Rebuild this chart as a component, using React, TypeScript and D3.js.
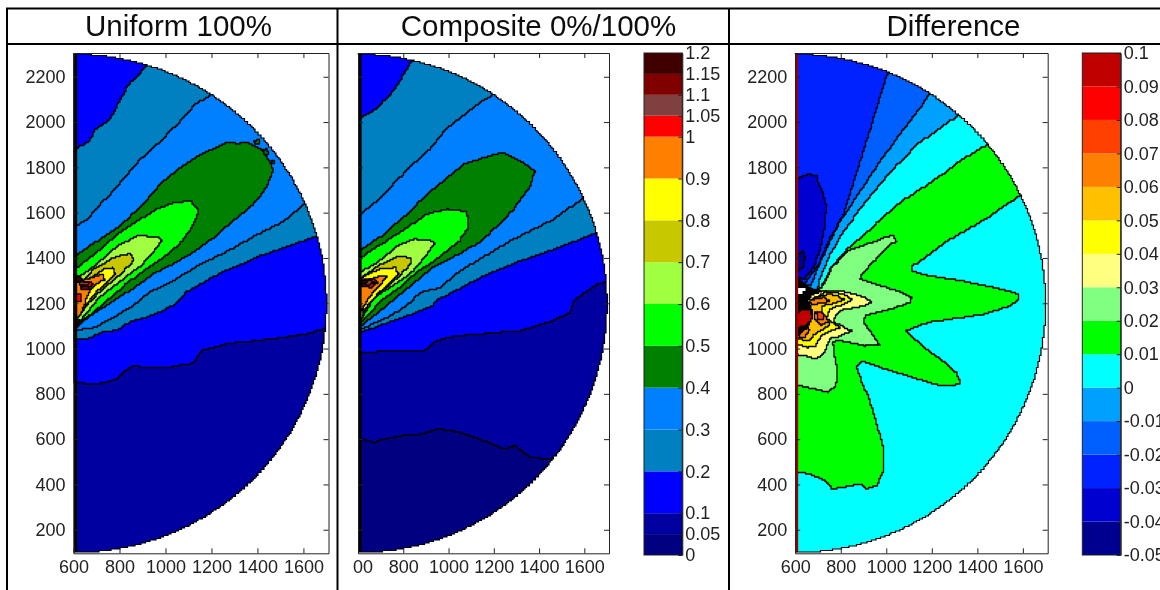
import { useEffect, useRef } from "react"
import * as d3 from "d3"

type Pt = [number, number]
type Layer = [number, Pt[][]]

// colour bar levels + colours
const sumLevels = [0, 0.05, 0.1, 0.2, 0.3, 0.4, 0.5, 0.6, 0.7, 0.8, 0.9, 1, 1.05, 1.1, 1.15, 1.2]
const sumColors = ["#000080", "#0000a0", "#0000ff", "#0080c0", "#0080ff", "#008000", "#00ff00", "#a0ff40", "#c8c800", "#ffff00", "#ff8000", "#ff0000", "#804040", "#800000", "#400000"]
const diffLevels = [-0.05, -0.04, -0.03, -0.02, -0.01, 0, 0.01, 0.02, 0.03, 0.04, 0.05, 0.06, 0.07, 0.08, 0.09, 0.1]
const diffColors = ["#000090", "#0000d0", "#0020ff", "#0060ff", "#00a0ff", "#00ffff", "#00ff00", "#80ff80", "#ffff80", "#ffff00", "#ffc000", "#ff8000", "#ff4000", "#ff0000", "#c00000"]

const xTicks = [600, 800, 1000, 1200, 1400, 1600]
const yTicks = [200, 400, 600, 800, 1000, 1200, 1400, 1600, 1800, 2000, 2200]

// Uniform 100% contours (data units)
const u01: Pt[] = [[600, 850], [640, 847], [690, 843], [740, 852], [785, 866], [820, 902], [857, 923], [915, 917], [973, 914], [1031, 920], [1075, 931], [1118, 934], [1155, 992], [1205, 1004], [1270, 1023], [1350, 1030], [1437, 1040], [1524, 1052], [1611, 1065], [1695, 1090], [1760, 1095], [1760, 2400], [600, 2400]]
const u02: Pt[] = [[600, 1040], [671, 1047], [715, 1071], [788, 1082], [846, 1120], [919, 1140], [991, 1170], [1042, 1199], [1085, 1247], [1136, 1277], [1238, 1336], [1412, 1410], [1660, 1498], [1760, 1535], [1760, 2400], [960, 2400], [919, 2245], [839, 2160], [803, 2094], [759, 2006], [693, 1962], [671, 1917], [600, 1870]]
const u03: Pt[] = [[600, 1082], [680, 1090], [759, 1130], [860, 1193], [926, 1248], [1006, 1285], [1151, 1373], [1296, 1446], [1398, 1505], [1514, 1564], [1608, 1641], [1680, 1700], [1760, 1700], [1760, 2400], [1270, 2400], [1202, 2119], [1136, 2079], [1020, 1954], [889, 1829], [788, 1711], [715, 1630], [664, 1572], [600, 1530]]
const u04: Pt[] = [[600, 1412], [616, 1414], [701, 1476], [788, 1535], [889, 1623], [991, 1741], [1093, 1822], [1180, 1873], [1267, 1910], [1310, 1905], [1354, 1910], [1412, 1881], [1449, 1829], [1468, 1785], [1441, 1711], [1412, 1667], [1369, 1623], [1296, 1564], [1224, 1498], [1136, 1432], [1064, 1388], [962, 1336], [860, 1263], [788, 1218], [700, 1160], [620, 1100], [600, 1090]]
const u04b: Pt[] = [[1385, 1918], [1405, 1922], [1410, 1905], [1390, 1902]]
const u04c: Pt[] = [[1425, 1880], [1442, 1882], [1445, 1860], [1428, 1858]]
const u04d: Pt[] = [[1464, 1828], [1476, 1828], [1476, 1816], [1464, 1816]]
const u05: Pt[] = [[600, 1350], [616, 1358], [701, 1424], [788, 1505], [875, 1564], [962, 1616], [1035, 1645], [1107, 1652], [1144, 1608], [1129, 1557], [1078, 1476], [1006, 1410], [918, 1351], [831, 1285], [759, 1218], [672, 1145], [628, 1115], [600, 1100]]
const u06: Pt[] = [[600, 1300], [621, 1314], [701, 1373], [788, 1454], [875, 1498], [962, 1494], [984, 1476], [955, 1432], [904, 1373], [831, 1314], [759, 1258], [701, 1211], [642, 1137], [620, 1110], [600, 1110]]
const u07: Pt[] = [[628, 1277], [686, 1351], [773, 1402], [846, 1420], [863, 1388], [831, 1351], [759, 1285], [700, 1233], [657, 1189], [628, 1145]]
const u08: Pt[] = [[625, 1285], [671, 1311], [729, 1351], [770, 1358], [780, 1329], [744, 1285], [700, 1248], [664, 1204], [635, 1160]]
const u09: Pt[] = [[600, 1292], [671, 1311], [726, 1329], [734, 1302], [693, 1277], [669, 1248], [650, 1196], [631, 1145], [610, 1130], [600, 1130]]
const u10a: Pt[] = [[628, 1296], [664, 1296], [686, 1285], [671, 1263], [635, 1270]]
const u10b: Pt[] = [[605, 1240], [631, 1243], [635, 1211], [605, 1208]]
const u10c: Pt[] = [[606, 1189], [616, 1189], [616, 1145], [606, 1137]]
const u105: Pt[] = [[622, 1300], [664, 1292], [668, 1282], [628, 1284]]
const u11: Pt[] = [[632, 1272], [660, 1276], [664, 1264], [636, 1262]]
const u115a: Pt[] = [[600, 1330], [616, 1321], [642, 1306], [628, 1292], [600, 1292]]
const u115b: Pt[] = [[600, 1085], [615, 1095], [625, 1125], [600, 1135]]

// Composite 0%/100% contours
const c005: Pt[] = [[600, 600], [616, 600], [668, 586], [712, 600], [786, 615], [874, 622], [948, 644], [1021, 637], [1110, 608], [1169, 586], [1242, 556], [1294, 571], [1360, 519], [1448, 512], [1500, 549], [1560, 580], [1760, 580], [1760, 2400], [600, 2400]]
const c01: Pt[] = [[600, 980], [682, 986], [786, 990], [889, 987], [948, 1037], [1036, 1056], [1183, 1068], [1316, 1079], [1448, 1120], [1537, 1160], [1552, 1211], [1610, 1255], [1655, 1285], [1706, 1299], [1760, 1310], [1760, 2400], [600, 2400]]
const c02: Pt[] = [[600, 1070], [712, 1108], [815, 1145], [918, 1185], [955, 1218], [1021, 1252], [1139, 1314], [1316, 1388], [1463, 1439], [1655, 1513], [1760, 1555], [1760, 2400], [880, 2400], [852, 2278], [830, 2256], [793, 2190], [741, 2116], [682, 2057], [616, 2017], [600, 2010]]
const c03: Pt[] = [[600, 1080], [741, 1145], [815, 1193], [874, 1248], [962, 1270], [1036, 1336], [1257, 1469], [1463, 1572], [1596, 1667], [1680, 1720], [1760, 1720], [1760, 2400], [1250, 2400], [1191, 2116], [1110, 2064], [992, 1969], [918, 1880], [815, 1785], [712, 1675], [616, 1594], [600, 1585]]
const c04: Pt[] = [[600, 1430], [616, 1439], [712, 1505], [815, 1594], [918, 1697], [1065, 1814], [1154, 1844], [1235, 1866], [1301, 1837], [1382, 1778], [1360, 1712], [1286, 1608], [1213, 1535], [1139, 1468], [1021, 1402], [933, 1358], [830, 1270], [741, 1200], [680, 1150], [616, 1100], [600, 1095]]
const c05: Pt[] = [[600, 1398], [616, 1405], [712, 1469], [815, 1535], [903, 1594], [992, 1616], [1080, 1605], [1088, 1535], [1051, 1476], [962, 1402], [874, 1344], [786, 1270], [712, 1218], [650, 1150], [610, 1110], [600, 1105]]
const c06: Pt[] = [[600, 1335], [616, 1343], [682, 1380], [771, 1454], [845, 1483], [918, 1480], [937, 1461], [910, 1417], [845, 1343], [771, 1285], [674, 1226], [640, 1170], [612, 1120], [600, 1115]]
const c07: Pt[] = [[616, 1314], [697, 1373], [771, 1405], [830, 1402], [834, 1373], [786, 1321], [727, 1270], [675, 1226], [640, 1180], [620, 1140]]
const c08: Pt[] = [[624, 1321], [697, 1351], [763, 1358], [778, 1329], [741, 1285], [690, 1240], [655, 1200], [620, 1160]]
const c09: Pt[] = [[638, 1300], [697, 1321], [730, 1321], [705, 1285], [668, 1248], [646, 1218], [625, 1180], [605, 1160], [600, 1200], [600, 1270]]
const c10: Pt[] = [[600, 1300], [660, 1310], [690, 1290], [660, 1270], [600, 1280]]
const c105: Pt[] = [[600, 1296], [650, 1304], [672, 1290], [650, 1278], [600, 1284]]
const c115: Pt[] = [[600, 1305], [630, 1302], [644, 1292], [620, 1286], [600, 1288]]

// Difference contours
const d001: Pt[] = [[600, 456], [614, 453], [665, 446], [738, 409], [760, 380], [841, 394], [892, 402], [906, 380], [958, 394], [990, 468], [987, 564], [958, 674], [929, 770], [892, 858], [867, 924], [892, 943], [1017, 902], [1149, 861], [1222, 839], [1281, 836], [1327, 846], [1309, 894], [1250, 946], [1177, 998], [1089, 1079], [1177, 1115], [1309, 1134], [1426, 1152], [1543, 1189], [1584, 1218], [1584, 1240], [1513, 1262], [1338, 1299], [1192, 1321], [1111, 1344], [1116, 1366], [1265, 1476], [1455, 1586], [1579, 1674], [1750, 1730], [1750, 2100], [1500, 1950], [1448, 1900], [1338, 1836], [1221, 1748], [1075, 1652], [958, 1550], [826, 1432], [753, 1344], [717, 1270], [700, 1255], [600, 1260]]
const d002: Pt[] = [[600, 838], [614, 836], [665, 825], [741, 807], [778, 836], [786, 902], [771, 976], [767, 1027], [786, 1037], [899, 1012], [972, 1017], [943, 1064], [899, 1123], [906, 1145], [1016, 1174], [1104, 1204], [1111, 1226], [1075, 1248], [958, 1285], [885, 1307], [892, 1329], [958, 1402], [1016, 1461], [1045, 1476], [1031, 1501], [943, 1469], [836, 1432], [763, 1358], [721, 1270], [640, 1230], [600, 1230]]
const d003: Pt[] = [[724, 1255], [811, 1251], [885, 1233], [936, 1204], [899, 1186], [811, 1171], [775, 1145], [771, 1115], [848, 1076], [790, 1049], [760, 1052], [724, 976], [698, 954], [651, 968], [614, 973], [600, 973], [600, 1220], [680, 1250]]
const d004: Pt[] = [[731, 1251], [811, 1240], [852, 1214], [811, 1193], [753, 1174], [738, 1130], [797, 1090], [753, 1076], [717, 1056], [692, 1012], [659, 1005], [614, 1017], [600, 1020], [600, 1130], [680, 1220]]
const d005: Pt[] = [[680, 1223], [738, 1240], [785, 1233], [814, 1214], [775, 1199], [717, 1186], [717, 1145], [753, 1100], [717, 1081], [680, 1056], [665, 1034], [614, 1042], [600, 1045], [600, 1100], [620, 1130], [660, 1200]]
const d006a: Pt[] = [[665, 1215], [724, 1226], [753, 1208], [724, 1199], [673, 1196]]
const d006b: Pt[] = [[687, 1159], [731, 1149], [746, 1115], [717, 1105], [687, 1130]]
const d006c: Pt[] = [[614, 1049], [621, 1071], [651, 1096], [665, 1079], [643, 1049]]
const d007: Pt[] = [[696, 1164], [718, 1164], [725, 1130], [699, 1125]]
const dCore: Pt[] = [[600, 1325], [629, 1292], [680, 1263], [724, 1252], [680, 1233], [658, 1211], [673, 1182], [680, 1135], [658, 1090], [621, 1056], [600, 1042]]
const dHole: Pt[] = [[604, 1270], [643, 1270], [648, 1255], [629, 1243], [604, 1243]]
const dHot: Pt[] = [[604, 1145], [629, 1170], [662, 1164], [673, 1135], [651, 1108], [621, 1096], [606, 1090]]
const dNeg0: Pt[] = [[600, 1262], [698, 1263], [709, 1314], [753, 1417], [812, 1520], [899, 1638], [1002, 1763], [1133, 1903], [1316, 2032], [1400, 2400], [600, 2400]]
const dNeg1: Pt[] = [[600, 1270], [672, 1285], [687, 1329], [738, 1447], [797, 1564], [885, 1697], [972, 1829], [1090, 1991], [1187, 2119], [1250, 2400], [600, 2400]]
const dNeg2: Pt[] = [[600, 1275], [643, 1290], [658, 1314], [702, 1373], [753, 1491], [812, 1594], [885, 1829], [958, 2065], [1005, 2219], [1050, 2400], [600, 2400]]
const dNeg3: Pt[] = [[600, 1750], [617, 1755], [651, 1770], [698, 1763], [702, 1726], [724, 1682], [736, 1623], [731, 1535], [709, 1432], [680, 1351], [643, 1307], [614, 1314], [600, 1310]]
const dNeg4: Pt[] = [[600, 1417], [614, 1417], [629, 1432], [643, 1402], [639, 1358], [614, 1343], [600, 1343]]

const uniformLayers: Layer[] = [[0.1, [u01]], [0.2, [u02]], [0.3, [u03]], [0.4, [u04, u04b, u04c, u04d]], [0.5, [u05]], [0.6, [u06]], [0.7, [u07]], [0.8, [u08]], [0.9, [u09]], [1, [u10a, u10b, u10c]], [1.05, [u105]], [1.1, [u11]], [1.15, [u115a, u115b]]]
const compositeLayers: Layer[] = [[0.05, [c005]], [0.1, [c01]], [0.2, [c02]], [0.3, [c03]], [0.4, [c04]], [0.5, [c05]], [0.6, [c06]], [0.7, [c07]], [0.8, [c08]], [0.9, [c09]], [1, [c10]], [1.05, [c105]], [1.15, [c115]]]
const diffLayers: Layer[] = [[0.01, [d001]], [0.02, [d002]], [0.03, [d003]], [0.04, [d004]], [0.05, [d005]], [0.06, [d006a, d006b, d006c]], [0.07, [d007]], [-0.01, [dNeg0]], [-0.02, [dNeg1]], [-0.03, [dNeg2]], [-0.04, [dNeg3]], [-0.05, [dNeg4]]]

// half disc outline: centre 600,1200 radius 1100
const discAngles = d3.range(-90, 90.5, 1)
const discPts: Pt[] = discAngles.map(a => [600 + 1100 * Math.cos(a * Math.PI / 180), 1200 + 1100 * Math.sin(a * Math.PI / 180)])

const xDomain = [600, 1709]
const yDomain = [96, 2305]
const yRange = [553.3, 53]
const FONT = "'Liberation Sans', Arial, sans-serif"

function drawPanel(svg: any, id: string, left: number, right: number, base: number, layers: Layer[], color: any, strip: string, stripEnd: number, hideY: boolean) {
    const x = d3.scaleLinear().domain(xDomain).range([left, right])
    const y = d3.scaleLinear().domain(yDomain).range(yRange)

    // the original is a coarse grid plot, so the edges go in little stairs
    const stair = (p: Pt[]) => {
        const px = p.map(d => [x(d[0]), y(d[1])])
        const out: Pt[] = []
        d3.pairs(px).forEach(([a, b]) => {
            const n = Math.ceil(Math.hypot(b[0] - a[0], b[1] - a[1]) / 2) || 1
            d3.range(n).forEach(i => {
                const t = i / n
                out.push([Math.round((a[0] + (b[0] - a[0]) * t) / 1.5) * 1.5, Math.round((a[1] + (b[1] - a[1]) * t) / 1.5) * 1.5])
            })
        })
        out.push([px[px.length - 1][0], px[px.length - 1][1]])
        return out
    }
    const line = d3.line<Pt>().curve(d3.curveStepAfter)
    const outline = (p: Pt[]) => line(stair(p))
    const shape = (p: Pt[]) => line(stair([...p, p[0]])) + "Z"

    svg.append("clipPath").attr("id", id).append("path").attr("d", shape(discPts))

    const g = svg.append("g").attr("clip-path", `url(#${id})`)
    g.append("path").attr("d", shape(discPts)).attr("fill", color(base))

    layers.forEach(([level, polys]) => {
        g.selectAll(null)
            .data(polys)
            .join("path")
                .attr("d", (p: Pt[]) => shape(p))
                .attr("fill", color(level))
                .attr("stroke", "#000")
                .attr("stroke-width", 1.3)
                .attr("stroke-linejoin", "round")
    })

    // Difference panel has its black core + white hole on top
    if (id === "diff") {
        g.append("path").attr("d", shape(dCore)).attr("fill", "#000")
        g.append("path").attr("d", shape(dHole)).attr("fill", "#fff")
        g.append("path").attr("d", shape(dHot)).attr("fill", "#c00000")
    }

    g.append("rect")
        .attr("x", x(600))
        .attr("y", y(2305))
        .attr("width", x(stripEnd) - x(600))
        .attr("height", y(96) - y(2305))
        .attr("fill", strip)

    svg.append("path").attr("d", outline(discPts)).attr("fill", "none").attr("stroke", "#000").attr("stroke-width", 1.2)

    // axes, ticks pointing inward
    const axes = svg.append("g").style("font-family", FONT).style("font-size", "18px")
    const style = (a: any) => {
        a.attr("font-family", null).attr("font-size", null)
        a.selectAll("path,line").attr("stroke", "#222")
        a.selectAll("text").attr("fill", "#222")
    }
    const fmtX = (d: any) => (hideY && d === 600 ? "00" : String(d))
    const bottom = axes.append("g")
        .attr("transform", `translate(0,${yRange[0]})`)
        .call(d3.axisBottom(x).tickValues(xTicks).tickSize(-5).tickSizeOuter(0).tickPadding(7).tickFormat(fmtX))
        .call(style)
    if (hideY) bottom.selectAll("text").filter((d: any) => d === 600).attr("dx", 4.5)
    axes.append("g")
        .attr("transform", `translate(0,${yRange[1]})`)
        .call(d3.axisTop(x).tickValues(xTicks).tickSize(-5).tickSizeOuter(0).tickFormat(() => ""))
        .call(style)
    axes.append("g")
        .attr("transform", `translate(${left},0)`)
        .call(d3.axisLeft(y).tickValues(yTicks).tickSize(-5).tickSizeOuter(0).tickPadding(8).tickFormat(hideY ? () => "" : (d: any) => String(d)))
        .call(style)
    axes.append("g")
        .attr("transform", `translate(${right},0)`)
        .call(d3.axisRight(y).tickValues(yTicks).tickSize(-5).tickSizeOuter(0).tickFormat(() => ""))
        .call(style)
}

function drawBar(svg: any, left: number, right: number, levels: number[], color: any) {
    const y = d3.scaleLinear().domain([levels[0], levels[levels.length - 1]]).range([555, 53])
    svg.append("g")
        .selectAll("rect")
        .data(d3.pairs(levels))
        .join("rect")
            .attr("x", left)
            .attr("width", right - left)
            .attr("y", (d: number[]) => y(d[1]))
            .attr("height", (d: number[]) => y(d[0]) - y(d[1]))
            .attr("fill", (d: number[]) => color(d[0]))
    svg.append("rect")
        .attr("x", left).attr("y", 53).attr("width", right - left).attr("height", 502)
        .attr("fill", "none").attr("stroke", "#222")
    const ax = svg.append("g")
        .attr("transform", `translate(${right},0)`)
        .style("font-family", FONT)
        .style("font-size", "18px")
        .call(d3.axisRight(y).tickValues(levels).tickSize(-4).tickSizeOuter(0).tickPadding(3).tickFormat((d: any) => String(d)))
    ax.attr("font-family", null).attr("font-size", null)
    ax.selectAll("line,path").attr("stroke", "#222")
    ax.selectAll("text").attr("fill", "#222")
}

export default function App() {
    const ref = useRef<SVGGElement>(null)

    useEffect(() => {
        const svg = d3.select(ref.current)
        svg.selectAll("*").remove()

        const sumColor = d3.scaleThreshold<number, string>().domain(sumLevels.slice(1, -1)).range(sumColors)
        const diffColor = d3.scaleThreshold<number, string>().domain(diffLevels.slice(1, -1)).range(diffColors)

        drawPanel(svg, "uniform", 73.5, 328.5, 0.05, uniformLayers, sumColor, "#000", 616, false)
        drawPanel(svg, "composite", 358, 609, 0, compositeLayers, sumColor, "#000", 616, true)
        drawBar(svg, 644, 682.3, sumLevels, sumColor)
        drawPanel(svg, "diff", 795.2, 1047.7, 0, diffLayers, diffColor, "#a00000", 613, false)
        drawBar(svg, 1082.3, 1120.7, diffLevels, diffColor)

        // table frame + titles
        const frame = svg.append("g").attr("stroke", "#000").attr("stroke-width", 2)
        frame.append("line").attr("x1", 6).attr("x2", 1160).attr("y1", 8.5).attr("y2", 8.5)
        frame.append("line").attr("x1", 6).attr("x2", 1160).attr("y1", 44).attr("y2", 44)
        frame.selectAll("line.v")
            .data([7, 337.5, 729])
            .join("line")
                .attr("class", "v")
                .attr("x1", (d: number) => d).attr("x2", (d: number) => d)
                .attr("y1", 8).attr("y2", 590)

        svg.append("g")
            .attr("font-family", FONT)
            .attr("font-size", 29.5)
            .attr("text-anchor", "middle")
            .attr("fill", "#111")
            .selectAll("text")
            .data([["Uniform 100%", 178.5], ["Composite 0%/100%", 538.5], ["Difference", 953.5]])
            .join("text")
                .attr("x", (d: any) => d[1])
                .attr("y", 36)
                .text((d: any) => d[0])
    }, [])

    return (
        <svg width={1160} height={590} style={{ position: "fixed", left: 0, top: 0, background: "#fff" }}>
            <defs>
                <filter id="soft" filterUnits="userSpaceOnUse" x="0" y="0" width="1160" height="590">
                    <feGaussianBlur stdDeviation="0.45" />
                </filter>
            </defs>
            <g ref={ref} filter="url(#soft)" />
        </svg>
    )
}
